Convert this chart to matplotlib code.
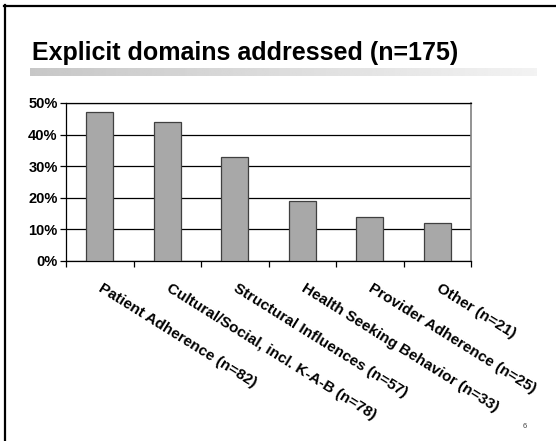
import numpy as np
import matplotlib
matplotlib.use("Agg")
import matplotlib.pyplot as plt
from matplotlib.lines import Line2D
import matplotlib.transforms as mtransforms

plt.rcParams['font.family'] = ['Liberation Sans', 'DejaVu Sans']

# data
categories = ['Patient Adherence (n=82)', 'Cultural/Social, incl. K-A-B (n=78)',
              'Structural Influences (n=57)', 'Health Seeking Behavior (n=33)',
              'Provider Adherence (n=25)', 'Other (n=21)']
values = [0.47, 0.44, 0.33, 0.19, 0.14, 0.12]
ytick_vals = [0, 0.1, 0.2, 0.3, 0.4, 0.5]
ytick_labels = ['0%', '10%', '20%', '30%', '40%', '50%']

W, H = 556, 441
fig = plt.figure(figsize=(W / 100, H / 100), dpi=100)

# slide border (top + left only)
fig.add_artist(Line2D([4 / W, 1], [1 - 5.5 / H, 1 - 5.5 / H], color='black', lw=1.6,
                      transform=fig.transFigure))
fig.add_artist(Line2D([4.5 / W, 4.5 / W], [0, 1 - 5 / H], color='black', lw=1.6,
                      transform=fig.transFigure))

# title
fig.text(32 / W, 1 - 60 / H, 'Explicit domains addressed (n=175)', fontsize=18,
         fontweight='bold', ha='left', va='baseline')

# grey gradient bar under title
gax = fig.add_axes([30 / W, 1 - 76 / H, 507 / W, 8 / H])
grad = np.linspace(0.78, 0.95, 256).reshape(1, -1)
gax.imshow(grad, aspect='auto', cmap='gray', vmin=0, vmax=1)
gax.axis('off')

# chart
ax = fig.add_axes([66 / W, 1 - 261 / H, 405 / W, 158 / H])
x = np.arange(len(categories))
ax.bar(x, values, width=0.4, color='#a8a8a8', edgecolor='#404040', linewidth=0.9, zorder=3)

ax.set_xlim(-0.5, len(categories) - 0.5)
ax.set_ylim(0, 0.5)
ax.set_yticks(ytick_vals)
ax.set_yticklabels(ytick_labels, fontsize=10.5, fontweight='bold')
ax.yaxis.grid(True, color='black', lw=0.9, zorder=1)
ax.set_xticks(np.arange(len(categories) + 1) - 0.5)
ax.set_xticklabels([])
ax.tick_params(axis='both', direction='out', length=4, width=0.9, color='black', pad=2)

for s in ['left', 'top', 'bottom']:
    ax.spines[s].set_color('black')
    ax.spines[s].set_linewidth(0.9)
ax.spines['right'].set_color('#808080')
ax.spines['right'].set_linewidth(1.2)

trans = mtransforms.blended_transform_factory(ax.transData, ax.transAxes)
for i, lab in enumerate(categories):
    ax.text(i + 0.06, -0.125, lab, transform=trans, rotation=-32, rotation_mode='anchor',
            ha='left', va='top', fontsize=11, fontweight='bold')

# page number
fig.text(525 / W, 1 - 428 / H, '6', fontsize=5.5, color='#444444', ha='center')

fig.savefig('out.png', dpi=100)
